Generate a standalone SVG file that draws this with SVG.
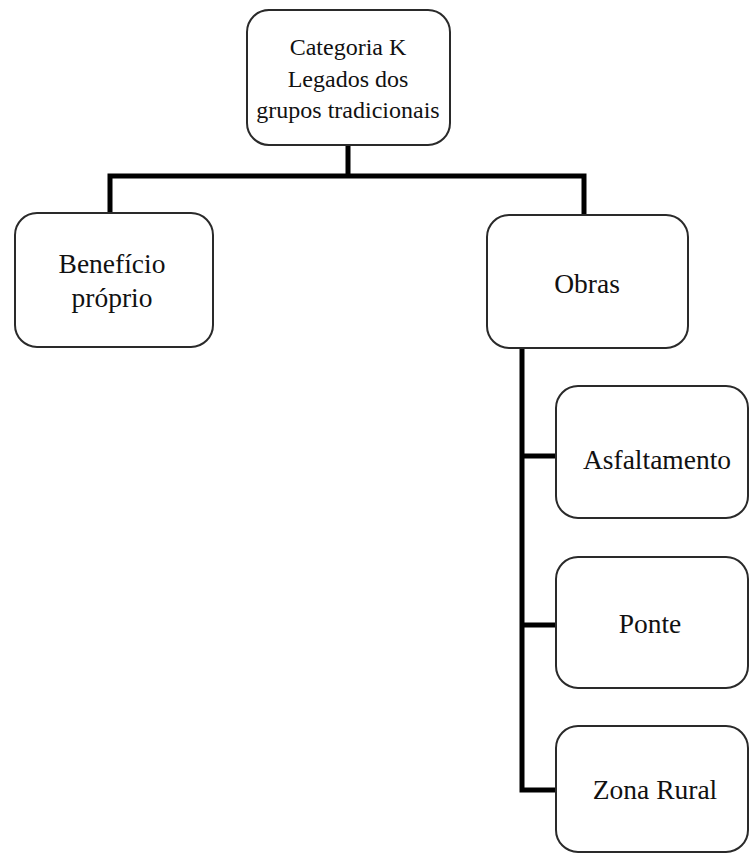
<svg xmlns="http://www.w3.org/2000/svg" width="750" height="854" viewBox="0 0 750 854">
<style>
.box{fill:#fff;stroke:#2a2a2a;stroke-width:2}
.t{font-family:"Liberation Serif","Times New Roman",serif;font-size:27.5px;fill:#111;text-anchor:middle}
.t2{font-size:24px}
.c{fill:none;stroke:#000;stroke-width:5}
</style>
<rect width="750" height="854" fill="#fff"/>
<g id="connectors">
<path class="c" d="M348,145 V176 M110,213 V176 H584 V215"/>
<path class="c" d="M522,348 V790 H556 M522,456 H556 M522,625 H556"/>
</g>
<g id="root"><rect class="box" x="247" y="10" width="203" height="135" rx="22"/>
<text class="t t2" x="348" y="55">Categoria K</text>
<text class="t t2" x="348" y="87">Legados dos</text>
<text class="t t2" x="348" y="118">grupos tradicionais</text></g>
<g id="beneficio"><rect class="box" x="15" y="213" width="198" height="134" rx="22"/>
<text class="t" x="112" y="273">Benefício</text>
<text class="t" x="112" y="307">próprio</text></g>
<g id="obras"><rect class="box" x="487" y="215" width="201" height="133" rx="22"/>
<text class="t" x="587" y="293">Obras</text></g>
<g id="asfaltamento"><rect class="box" x="556" y="386" width="192" height="132" rx="22"/>
<text class="t" x="657" y="469">Asfaltamento</text></g>
<g id="ponte"><rect class="box" x="556" y="557" width="192" height="131" rx="22"/>
<text class="t" x="650" y="633">Ponte</text></g>
<g id="zona"><rect class="box" x="556" y="726" width="192" height="126" rx="22"/>
<text class="t" x="655" y="799">Zona Rural</text></g>
</svg>
